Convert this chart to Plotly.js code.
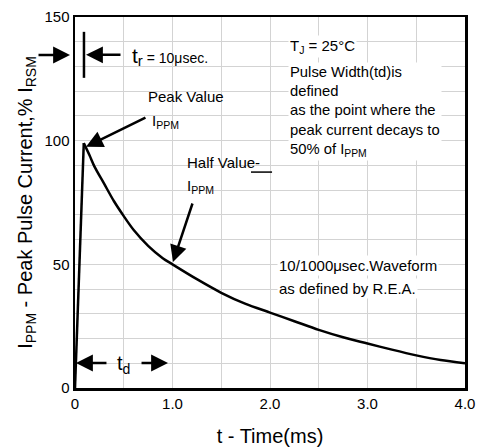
<!DOCTYPE html>
<html>
<head>
<meta charset="utf-8">
<script src="https://cdn.plot.ly/plotly-3.0.1.min.js"></script>
<style>html,body{margin:0;padding:0;background:#fff;}#chart{width:479px;height:448px;}</style>
</head>
<body>
<div id="chart"></div>
<script>
// Waveform data (time in ms, % of I_RSM)
var riseTimeMs = [0, 0.09];
var riseCurrentPct = [0, 99];
var decayTimeMs = [0.09, 0.15, 0.2, 0.3, 0.4, 0.5, 0.6, 0.75, 0.9, 1.0, 1.25, 1.5, 1.75, 2.0, 2.25, 2.5, 2.75, 3.0, 3.25, 3.5, 3.75, 4.0];
var decayCurrentPct = [99, 94, 89.5, 82.5, 75.5, 69.5, 64, 57.5, 52.5, 50, 44, 38.5, 34, 30.5, 27, 23.5, 20.5, 18, 15.5, 13.2, 11.3, 10];

var xTickVals = [0, 1, 2, 3, 4];
var xTickText = ["0", "1.0", "2.0", "3.0", "4.0"];
var yTickVals = [0, 50, 100, 150];
var yTickText = ["0", "50", "100", "150"];

var FONT = "Liberation Sans, Arial, sans-serif";
var GRID = "#d3d3d3";

function arrow(x, y, ax, ay) {
  return {x: x, y: y, ax: ax, ay: ay, xref: 'x', yref: 'y', axref: 'x', ayref: 'y',
    text: '', showarrow: true, arrowhead: 2, arrowsize: 1.35, arrowwidth: 2.5,
    arrowcolor: '#000', standoff: 0, startstandoff: 0};
}
function label(x, y, text, size, extra) {
  var a = {x: x, y: y, xref: 'x', yref: 'y', text: text, showarrow: false,
    xanchor: 'left', yanchor: 'middle', align: 'left',
    font: {family: FONT, size: size, color: '#000'}};
  if (extra) { for (var k in extra) a[k] = extra[k]; }
  return a;
}

var traces = [
  {x: riseTimeMs, y: riseCurrentPct, type: 'scatter', mode: 'lines',
   line: {color: '#000', width: 2.5}, hoverinfo: 'skip', cliponaxis: false},
  {x: decayTimeMs, y: decayCurrentPct, type: 'scatter', mode: 'lines',
   line: {color: '#000', width: 2.5, shape: 'spline', smoothing: 0.8}, hoverinfo: 'skip', cliponaxis: false}
];

var layout = {
  width: 479, height: 448,
  margin: {l: 75, r: 14, t: 17, b: 60},
  paper_bgcolor: '#fff', plot_bgcolor: '#fff',
  showlegend: false,
  font: {family: FONT, size: 15, color: '#000'},
  xaxis: {
    range: [0, 4], tickmode: 'array', tickvals: xTickVals, ticktext: xTickText,
    showgrid: true, gridcolor: GRID, gridwidth: 1,
    minor: {dtick: 0.5, tick0: 0, showgrid: true, gridcolor: GRID, gridwidth: 1},
    zeroline: false, ticks: '', showline: true, mirror: true, linecolor: '#000', linewidth: 2.5,
    tickfont: {family: FONT, size: 15, color: '#000'},
    title: {text: 't - Time(ms)', font: {family: FONT, size: 20, color: '#000'}, standoff: 19}
  },
  yaxis: {
    range: [0, 150], tickmode: 'array', tickvals: yTickVals, ticktext: yTickText,
    showgrid: true, gridcolor: GRID, gridwidth: 1,
    minor: {dtick: 10, tick0: 0, showgrid: true, gridcolor: GRID, gridwidth: 1},
    zeroline: false, ticks: '', showline: true, mirror: true, linecolor: '#000', linewidth: 2.5,
    tickfont: {family: FONT, size: 15, color: '#000'},
    title: {text: 'I<sub>PPM</sub> - Peak Pulse Current,% I<sub>RSM</sub>', font: {family: FONT, size: 20, color: '#000'}, standoff: 7}
  },
  shapes: [
    {type: 'line', xref: 'x', yref: 'y', x0: 0.092, x1: 0.092, y0: 125.4, y1: 144, line: {color: '#000', width: 2.5}},
    {type: 'line', xref: 'x', yref: 'y', x0: 1.805, x1: 2.021, y0: 87.3, y1: 87.3, line: {color: '#000', width: 1.5}}
  ],
  annotations: [
    // t_r marker (left arrow sits outside the plot, so it is placed in paper space)
    {x: -0.0128, y: 0.8976, xref: 'paper', yref: 'paper', ax: -33, ay: 0, axref: 'pixel', ayref: 'pixel',
     text: '', showarrow: true, arrowhead: 2, arrowsize: 1.35, arrowwidth: 2.5, arrowcolor: '#000',
     standoff: 0, startstandoff: 0},
    arrow(0.113, 134.7, 0.482, 134.7),
    label(0.564, 134.2, '<span style="font-size:21px">t</span><sub><span style="font-size:15px">r</span></sub> = 10μsec.', 14),
    // peak value
    label(0.728, 117.7, 'Peak Value', 15),
    label(0.769, 107.6, 'I<sub>PPM</sub>', 15),
    arrow(0.113, 97.5, 0.738, 109.6),
    // half value
    label(1.128, 91.0, 'Half Value-', 15),
    label(1.128, 81.4, 'I<sub>PPM</sub>', 15),
    arrow(1.005, 50.9, 1.210, 75.2),
    // conditions block
    label(2.185, 137.9, 'T<sub>J</sub> = 25°C', 15, {bgcolor: '#fff', borderpad: 1}),
    label(2.185, 111.6, 'Pulse Width(td)is<br>defined<br>as the point where the<br>peak current decays to<br>50% of I<sub>PPM</sub>', 14.8, {bgcolor: '#fff', borderpad: 1}),
    label(2.072, 49.7, '10/1000μsec.Waveform', 15, {bgcolor: '#fff', borderpad: 1}),
    label(2.072, 40.4, 'as defined by R.E.A.', 15, {bgcolor: '#fff', borderpad: 1}),
    // t_d marker
    arrow(0.010, 10.1, 0.338, 10.1),
    arrow(0.954, 10.1, 0.667, 10.1),
    label(0.41, 9.6, '<span style="font-size:20px">t</span><sub>d</sub>', 20)
  ]
};

Plotly.newPlot('chart', traces, layout, {staticPlot: true, displayModeBar: false});
</script>
</body>
</html>
